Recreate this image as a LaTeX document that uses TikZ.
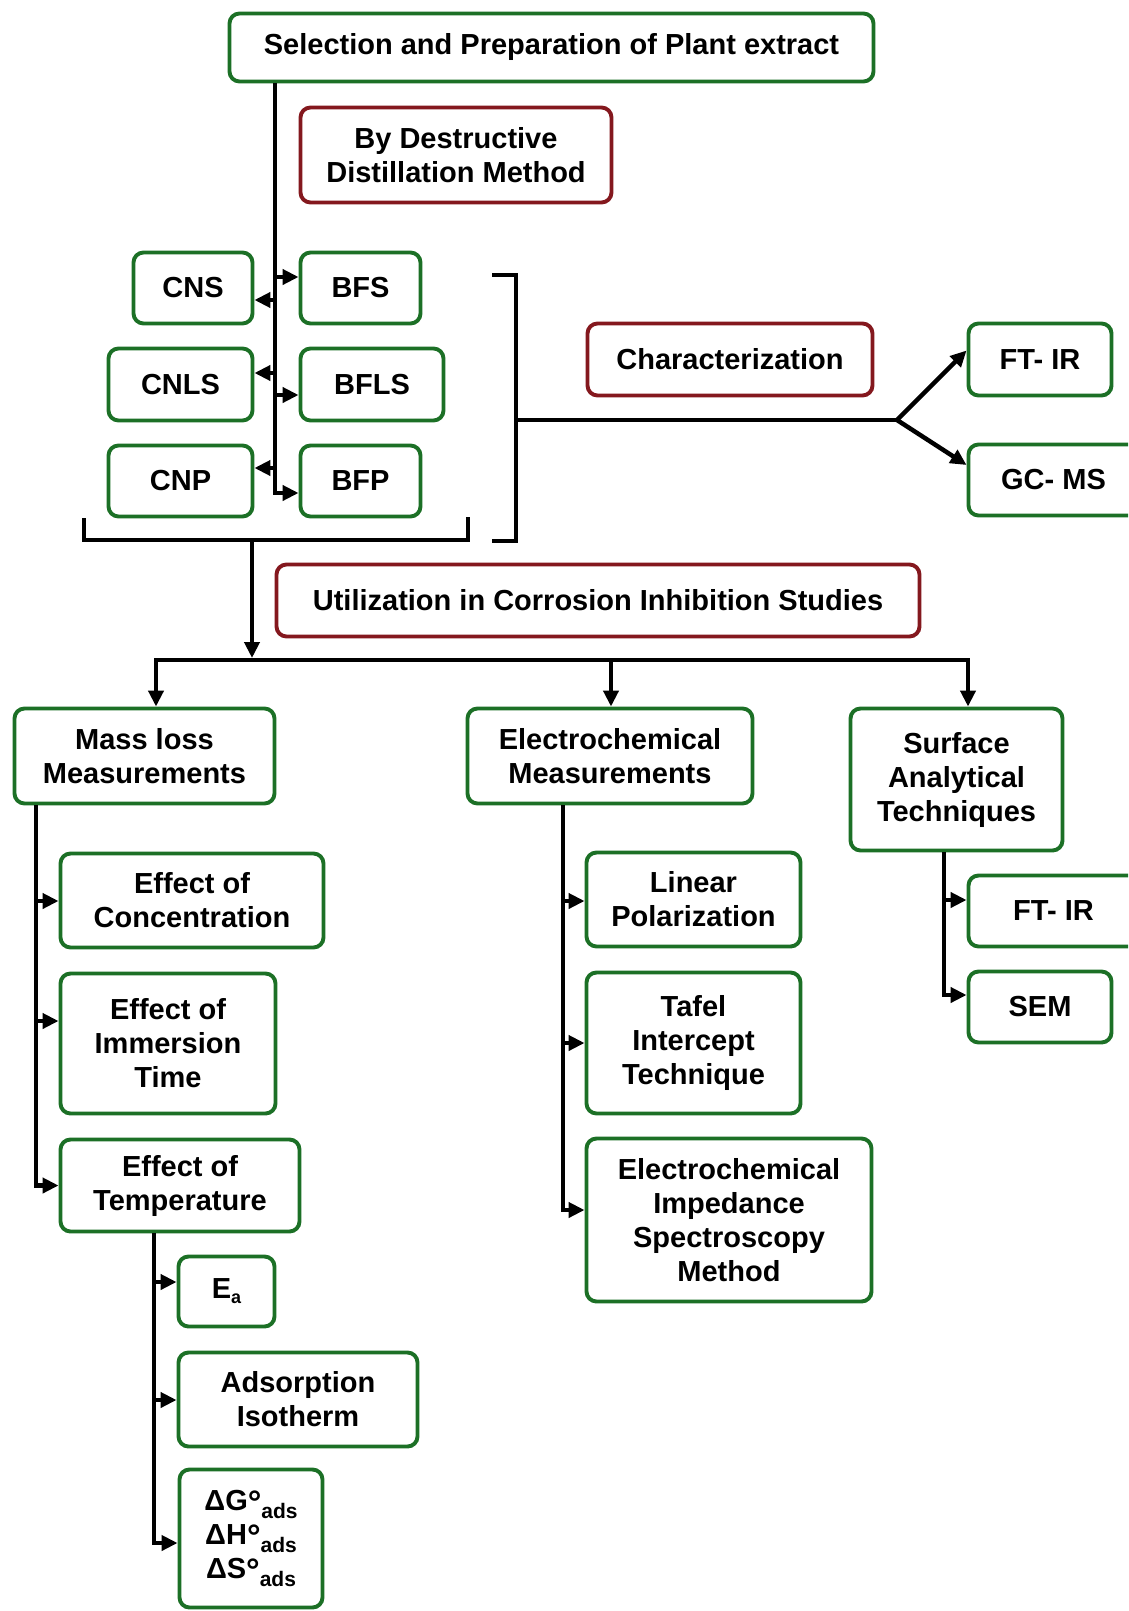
\documentclass[tikz,border=0pt]{standalone}
\usepackage{fontspec}
\setmainfont{Liberation Sans}
\usetikzlibrary{arrows.meta}
\definecolor{bgreen}{RGB}{28,112,38}
\definecolor{bred}{RGB}{132,24,30}
\newcommand\subads{\raisebox{-8pt}{\fontsize{21}{21}\selectfont ads}}
\newcommand\degr{\raisebox{-4pt}{\fontsize{34}{34}\selectfont °}}
\begin{document}
\begin{tikzpicture}[x=1pt,y=-1pt,
  box/.style={draw=bgreen, line width=3.9pt, rounded corners=10pt, align=center,
    inner sep=0pt, fill=white, font=\fontsize{29}{34}\selectfont\bfseries},
  rbox/.style={box, draw=bred},
  conn/.style={line width=4.5pt},
  arr/.style={conn, -{Triangle[length=16pt,width=15pt]}},
  tipb/.style={conn, {Triangle[length=16pt,width=15pt]}-{Triangle[length=16pt,width=15pt]}}]
\useasboundingbox (0,0) rectangle (1128,1611);
\clip (0,0) rectangle (1128,1611);
\fill[white] (0,0) rectangle (1128,1611);

% nodes
\node[box, minimum width=644pt, minimum height=68pt] (top) at (551.5,47.5) {Selection and Preparation of Plant extract};
\node[rbox, minimum width=311pt, minimum height=95pt] (dist) at (456,155) {By Destructive\\Distillation Method};
\node[box, minimum width=119pt, minimum height=71pt] (cns) at (193,288) {CNS};
\node[box, minimum width=120pt, minimum height=71pt] (bfs) at (360.5,288) {BFS};
\node[box, minimum width=144pt, minimum height=72pt] (cnls) at (180.5,384.5) {CNLS};
\node[box, minimum width=143pt, minimum height=72pt] (bfls) at (372,384.5) {BFLS};
\node[box, minimum width=144pt, minimum height=71pt] (cnp) at (180.5,481) {CNP};
\node[box, minimum width=120pt, minimum height=71pt] (bfp) at (360.5,481) {BFP};
\node[rbox, minimum width=285pt, minimum height=72pt] (char) at (730,359.5) {Characterization};
\node[box, minimum width=143pt, minimum height=72pt] (ftir1) at (1040,359.5) {FT- IR};
\node[box, minimum width=170pt, minimum height=71pt] (gcms) at (1053.5,480) {GC- MS};
\node[rbox, minimum width=643pt, minimum height=72pt] (util) at (598,600.5) {Utilization in Corrosion Inhibition Studies};
\node[box, minimum width=260pt, minimum height=95pt] (mass) at (144.5,756) {Mass loss\\Measurements};
\node[box, minimum width=285pt, minimum height=95pt] (elec) at (610,756) {Electrochemical\\Measurements};
\node[box, minimum width=212pt, minimum height=142pt] (surf) at (956.5,779.5) {Surface\\Analytical\\Techniques};
\node[box, minimum width=263pt, minimum height=94pt] (conc) at (192,900.5) {Effect of\\Concentration};
\node[box, minimum width=215pt, minimum height=140pt] (imm) at (168,1043.5) {Effect of\\Immersion\\Time};
\node[box, minimum width=239pt, minimum height=92pt] (temp) at (180,1185.5) {Effect of\\Temperature};
\node[box, minimum width=96pt, minimum height=70pt] (ea) at (226.5,1291.5) {E\raisebox{-5pt}{\fontsize{18}{18}\selectfont a}};
\node[box, minimum width=239pt, minimum height=94pt] (ads) at (298,1399.5) {Adsorption\\Isotherm};
\node[box, minimum width=143pt, minimum height=138pt, font=\fontsize{29}{34}\selectfont\bfseries] (dg) at (251,1538.5) {ΔG\degr\subads\\ΔH\degr\subads\\ΔS\degr\subads};
\node[box, minimum width=214pt, minimum height=94pt] (lin) at (693.5,899.5) {Linear\\Polarization};
\node[box, minimum width=214pt, minimum height=141pt] (tafel) at (693.5,1043) {Tafel\\Intercept\\Technique};
\node[box, minimum width=285pt, minimum height=163pt] (eis) at (729,1220) {Electrochemical\\Impedance\\Spectroscopy\\Method};
\node[box, minimum width=170pt, minimum height=71pt] (ftir2) at (1053.5,911) {FT- IR};
\node[box, minimum width=143pt, minimum height=71pt] (sem) at (1040,1007) {SEM};

% first trunk
\coordinate (tr) at (275,493);
\draw[arr] (top.south -| tr) |- (tr -| bfp.west);
\coordinate (b1) at (275,277); \draw[arr] (b1) -- (b1 -| bfs.west);
\coordinate (b2) at (275,300); \draw[arr] (b2) -- (b2 -| cns.east);
\coordinate (b3) at (275,373); \draw[arr] (b3) -- (b3 -| cnls.east);
\coordinate (b4) at (275,395); \draw[arr] (b4) -- (b4 -| bfls.west);
\coordinate (b5) at (275,468); \draw[arr] (b5) -- (b5 -| cnp.east);

% brackets
\coordinate (lbL) at (84,518); \coordinate (lbB) at (468,540); \coordinate (lbR) at (468,517);
\draw[conn] (lbL) |- (lbB) -- (lbR);
\coordinate (rb1) at (492,275); \coordinate (rb2) at (516,275);
\coordinate (rb3) at (516,541); \coordinate (rb4) at (492,541);
\draw[conn] (rb1) -- (rb2) -- (rb3) -- (rb4);

% characterization fork
\coordinate (fork) at (897,420);
\draw[conn] (rb2 |- fork) -- (fork);
\draw[arr] (fork) -- ([yshift=9pt]ftir1.west);
\draw[arr] (fork) -- ([yshift=15pt]gcms.west);

% stem to bus
\coordinate (stem) at (252,540); \coordinate (stemend) at (252,658);
\draw[arr] (stem) -- (stemend);
\coordinate (busL) at (156,660); \coordinate (busM) at (611,660); \coordinate (busR) at (968,660);
\draw[tipb] (busL |- mass.north) -- (busL) -- (busR) -- (busR |- surf.north);
\draw[arr] (busM) -- (busM |- elec.north);

% mass loss trunk
\coordinate (m1) at (36,901); \coordinate (m2) at (36,1021);
\draw[arr] (mass.south -| m1) |- (temp.west);
\draw[arr] (m1) -- (m1 -| conc.west);
\draw[arr] (m2) -- (m2 -| imm.west);

% temperature trunk
\coordinate (t1) at (154,1282); \coordinate (t2) at (154,1400); \coordinate (t3) at (154,1543);
\draw[arr] (temp.south -| t3) |- (t3 -| dg.west);
\draw[arr] (t1) -- (t1 -| ea.west);
\draw[arr] (t2) -- (t2 -| ads.west);

% electrochemical trunk
\coordinate (e1) at (563,901); \coordinate (e2) at (563,1043); \coordinate (e3) at (563,1210);
\draw[arr] (elec.south -| e3) |- (e3 -| eis.west);
\draw[arr] (e1) -- (e1 -| lin.west);
\draw[arr] (e2) -- (e2 -| tafel.west);

% surface trunk
\coordinate (s1) at (944,900); \coordinate (s2) at (944,995);
\draw[arr] (surf.south -| s2) |- (s2 -| sem.west);
\draw[arr] (s1) -- (s1 -| ftir2.west);
\end{tikzpicture}
\end{document}
